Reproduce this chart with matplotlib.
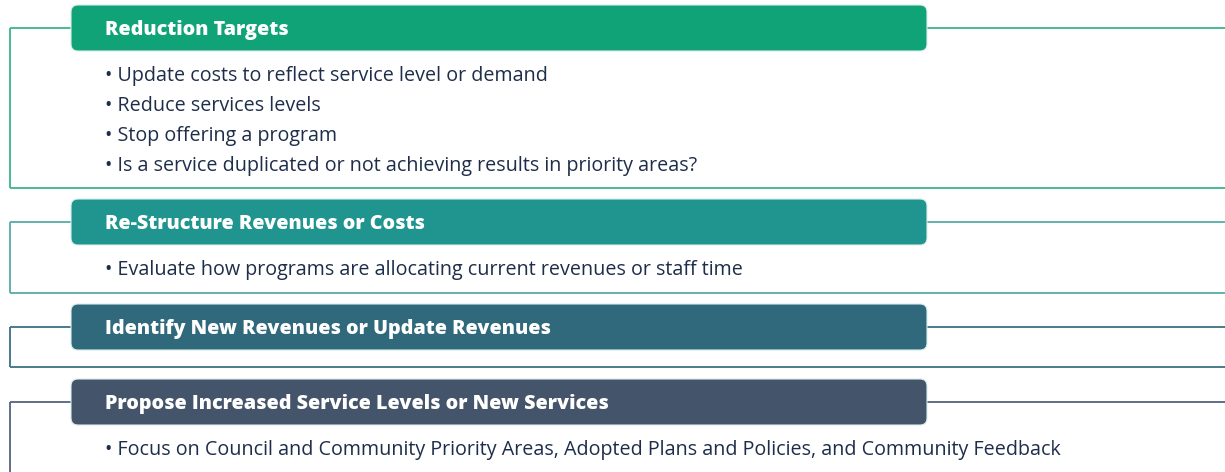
import matplotlib
matplotlib.use("Agg")
import matplotlib.pyplot as plt
from matplotlib.patches import FancyBboxPatch

titles = ["Reduction Targets", "Re-Structure Revenues or Costs",
          "Identify New Revenues or Update Revenues",
          "Propose Increased Service Levels or New Services"]
bullets = [
    ["Update costs to reflect service level or demand",
     "Reduce services levels",
     "Stop offering a program",
     "Is a service duplicated or not achieving results in priority areas?"],
    ["Evaluate how programs are allocating current revenues or staff time"],
    [],
    ["Focus on Council and Community Priority Areas, Adopted Plans and Policies, and Community Feedback"],
]
header_colors = ["#10A377", "#20948F", "#30687C", "#44546A"]
line_colors = ["#3DB38E", "#56ABA8", "#3A6F82", "#55627A"]

# layout (pixels)
header_top = [5, 199, 304, 379]
frame_bottom = [188, 293, 367, None]
bullet_y0 = [76.5, 270.5, None, 450.5]
bullet_step = 29.7

W, H = 1225, 472
fig = plt.figure(figsize=(W / 100, H / 100), dpi=100)
ax = fig.add_axes([0, 0, 1, 1])
ax.set_xlim(0, W)
ax.set_ylim(H, 0)
ax.axis("off")

hx0, hx1, hh = 71, 927, 46
for i, t in enumerate(titles):
    top = header_top[i]
    mid = top + 23
    lc = line_colors[i]
    lw = 1.3
    ax.plot([10, hx0], [mid, mid], color=lc, lw=lw, solid_capstyle="butt")
    ax.plot([hx1, W + 5], [mid, mid], color=lc, lw=lw, solid_capstyle="butt")
    bot = frame_bottom[i] if frame_bottom[i] is not None else H + 5
    ax.plot([10, 10], [mid, bot], color=lc, lw=lw, solid_capstyle="butt")
    if frame_bottom[i] is not None:
        ax.plot([10, W + 5], [bot, bot], color=lc, lw=lw, solid_capstyle="butt")
    box = FancyBboxPatch((hx0, top), hx1 - hx0, hh,
                         boxstyle="round,pad=0,rounding_size=7",
                         facecolor=header_colors[i], edgecolor="#D8EEE8",
                         lw=0.8, zorder=3)
    ax.add_patch(box)
    ax.text(105, mid + 2, t, color="white", fontsize=14.25, fontweight=800,
            family=["Open Sans", "DejaVu Sans"], va="center", ha="left", zorder=4)
    for j, b in enumerate(bullets[i]):
        y = bullet_y0[i] + j * bullet_step
        ax.text(105, y, "\u2022 " + b, color="#1E2E4A", fontsize=14.25,
                family=["Open Sans", "DejaVu Sans"], va="center", ha="left")

fig.savefig("out.png", dpi=100)
